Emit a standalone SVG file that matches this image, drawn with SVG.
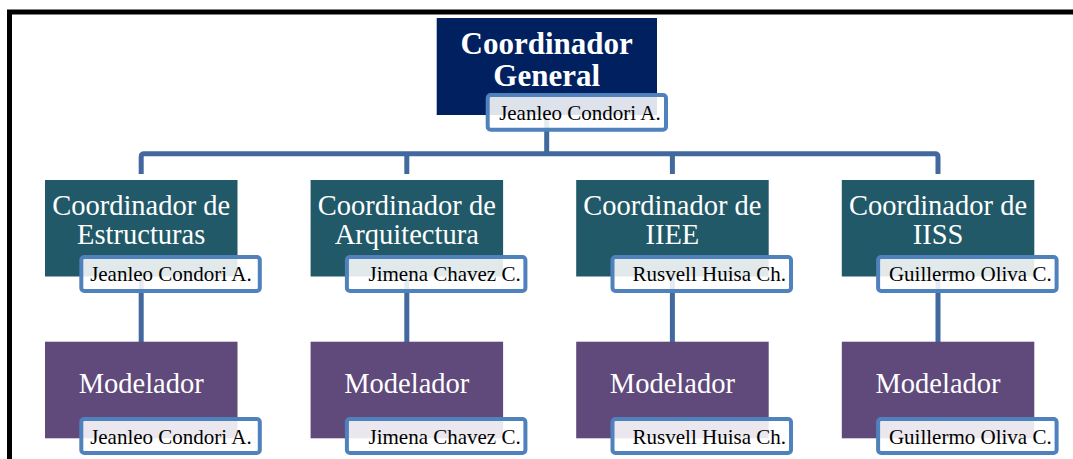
<svg xmlns="http://www.w3.org/2000/svg" width="1073" height="459" viewBox="0 0 1073 459">
<style>
.frame{fill:none;stroke:#000;stroke-width:5}
.conn{fill:none;stroke:#41699e;stroke-width:5;stroke-linejoin:round}
.top{fill:#002060}
.l2{fill:#215968}
.l3{fill:#604a7b}
.nb{fill:#fff;fill-opacity:0.87;stroke:#4f81bd;stroke-width:4}
.tt{font-family:"Liberation Serif","Times New Roman",serif;font-weight:bold;font-size:31px;fill:#fff;text-anchor:middle}
.t2{font-family:"Liberation Serif","Times New Roman",serif;font-size:28.5px;fill:#fff;text-anchor:middle}
.nt{font-family:"Liberation Serif","Times New Roman",serif;font-size:21px;fill:#000;text-anchor:end}
</style>
<rect width="1073" height="459" fill="#fff"/>
<path class="frame" d="M9.5,470 V12 H1080"/>
<g id="connectors">
<path class="conn" d="M546.7,112 V153.7"/>
<path class="conn" d="M141.2,174 V156.7 Q141.2,153.7 144.2,153.7 H935 Q938,153.7 938,156.7 V174"/>
<path class="conn" d="M406.8,153.7 V174"/>
<path class="conn" d="M672.4,153.7 V174"/>
<path class="conn" d="M141.2,270 V342"/>
<path class="conn" d="M406.8,270 V342"/>
<path class="conn" d="M672.4,270 V342"/>
<path class="conn" d="M938,270 V342"/>
</g>
<g id="n-general">
<rect class="top" x="436.7" y="18" width="220.3" height="97"/>
<text class="tt" x="546.7" y="54">Coordinador</text>
<text class="tt" x="546.7" y="86">General</text>
<rect class="nb" x="487.7" y="95" width="178.3" height="34.7" rx="3"/>
<text class="nt" x="660.7" y="120">Jeanleo Condori A.</text>
</g>
<g id="n-estructuras">
<rect class="l2" x="45" y="180" width="192.5" height="96.5"/>
<text class="t2" x="141.2" y="215">Coordinador de</text>
<text class="t2" x="141.2" y="244">Estructuras</text>
<rect class="nb" x="81.3" y="257" width="178.5" height="34" rx="3"/>
<text class="nt" x="251.7" y="281">Jeanleo Condori A.</text>
</g>
<g id="n-arquitectura">
<rect class="l2" x="310.6" y="180" width="192.5" height="96.5"/>
<text class="t2" x="406.8" y="215">Coordinador de</text>
<text class="t2" x="406.8" y="244">Arquitectura</text>
<rect class="nb" x="346.9" y="257" width="178.5" height="34" rx="3"/>
<text class="nt" x="520.7" y="281">Jimena Chavez C.</text>
</g>
<g id="n-iiee">
<rect class="l2" x="576.2" y="180" width="192.5" height="96.5"/>
<text class="t2" x="672.4" y="215">Coordinador de</text>
<text class="t2" x="672.4" y="244">IIEE</text>
<rect class="nb" x="612.5" y="257" width="178.5" height="34" rx="3"/>
<text class="nt" x="786" y="281">Rusvell Huisa Ch.</text>
</g>
<g id="n-iiss">
<rect class="l2" x="841.8" y="180" width="192.5" height="96.5"/>
<text class="t2" x="938" y="215">Coordinador de</text>
<text class="t2" x="938" y="244">IISS</text>
<rect class="nb" x="878.1" y="257" width="178.5" height="34" rx="3"/>
<text class="nt" x="1051.7" y="281">Guillermo Oliva C.</text>
</g>
<g id="n-mod1">
<rect class="l3" x="45" y="341.7" width="192.5" height="96.6"/>
<text class="t2" x="141.2" y="393">Modelador</text>
<rect class="nb" x="81.3" y="419" width="178.5" height="34" rx="3"/>
<text class="nt" x="251.7" y="443.5">Jeanleo Condori A.</text>
</g>
<g id="n-mod2">
<rect class="l3" x="310.6" y="341.7" width="192.5" height="96.6"/>
<text class="t2" x="406.8" y="393">Modelador</text>
<rect class="nb" x="346.9" y="419" width="178.5" height="34" rx="3"/>
<text class="nt" x="520.7" y="443.5">Jimena Chavez C.</text>
</g>
<g id="n-mod3">
<rect class="l3" x="576.2" y="341.7" width="192.5" height="96.6"/>
<text class="t2" x="672.4" y="393">Modelador</text>
<rect class="nb" x="612.5" y="419" width="178.5" height="34" rx="3"/>
<text class="nt" x="786" y="443.5">Rusvell Huisa Ch.</text>
</g>
<g id="n-mod4">
<rect class="l3" x="841.8" y="341.7" width="192.5" height="96.6"/>
<text class="t2" x="938" y="393">Modelador</text>
<rect class="nb" x="878.1" y="419" width="178.5" height="34" rx="3"/>
<text class="nt" x="1051.7" y="443.5">Guillermo Oliva C.</text>
</g>
</svg>
